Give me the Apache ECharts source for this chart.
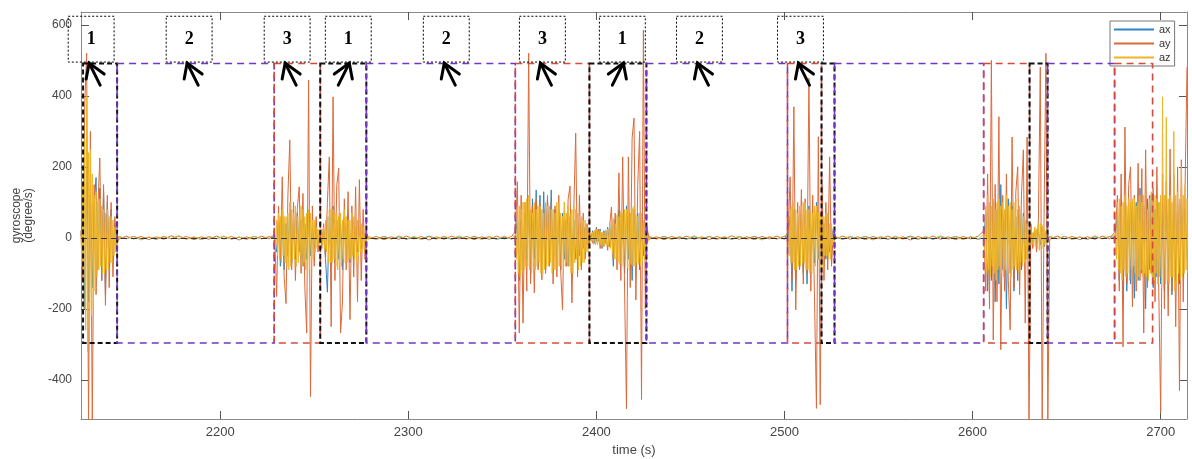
<!DOCTYPE html>
<html><head><meta charset="utf-8">
<script src="https://cdn.jsdelivr.net/npm/echarts@6/dist/echarts.min.js"></script>
<style>html,body{margin:0;padding:0;background:#fff}#c{width:1192px;height:459px}</style>
</head><body><div id="c"></div>
<script>
// ---- sampled signal: segments (bursts fine step, quiet 4 s step) ----
const segStart = [2126, 2146, 2229, 2279, 2357, 2428, 2502, 2527, 2606, 2641, 2676];
const segStepXY = [1, 4, 1, 4, 1, 4, 1, 4, 1, 4, 1];
const segStepZ  = [0.5, 4, 0.5, 4, 0.5, 4, 0.5, 4, 0.5, 4, 0.5];

const axSeg = [
  [5, 80, -200, 200, -180, 120, -140, 90, 170, -90, 140, -120, 130, -160, 100, -80, 80, -60, 40, -10],
  [3,-2,4,-3,2,-4,3,-2,5,-3,2,-4,3,-2,4,-3,2,-3,4,-2,3],
  [0, -40, 50, -80, 60, -90, 40, -50, 80, -70, 50, -60, 70, -40, 50, -80, 40, -60, 70, -50, 30, -30, 20, -15, 10, -15, 20, -60, -153, 60, -80, 90, -70, 50, -60, 40, -90, 60, -50, 40, -70, 50, -60, 30, -40, 30, -30, 20, -10, 0],
  [2,-3,4,-2,3,-4,2,-3,5,-2,3,-4,2,-3,4,-2,3,-4,2,-3],
  [0, 60, -120, 50, -90, 70, -60, 80, -70, 110, -60, 135, -80, 120, -70, 130, -90, 110, -60, 135, -100, 80, -70, 60, -90, 70, -60, 50, -80, 60, -70, 50, -60, 40, -50, 40, -30, 30, -20, 10,
   -5, 20, -15, 30, -10, 25, -30, 20, -15, 30, -25,
   40, -80, 50, -60, 80, -70, 60, -100, 90, -60, 70, -120, 80, -60, 70, -90, 60, -50, 30, -5],
  [3,-2,4,-3,2,-4,3,-2,4,-3,2,-4,3,-2,4,-3,2,-3,4],
  [0, 60, -150, 80, -120, 50, -90, 70, -100, 60, -130, 90, -80, 50, -70, 100, -60, 50, -70, 40, -60, 50, -40, 30, -5],
  [2,-4,3,-2,4,-3,2,-4,3,-2,5,-3,2,-4,3,-2,4,-3,2,-4],
  [0, 70, -150, 90, -120, 100, -180, 80, -130, 150, -90, 70, -200, 110, -100, 90, -150, 60, -120, 80, -90, 70, -60, 50, -40, 15, -10, 20, -15, 20, -20, 30, -25, 15, -5],
  [3,-2,4,-3,2,-4,3,-2,4],
  [0, 80, -120, 90, -180, 100, -150, 110, -130, 90, -170, 100, -120, 140, -100, 90, -200, 110, -90, 120, -140, 80, -110, 100, -130, 90, -150, 120, -100, 80, -160, 110, -120, 90, -130, 100, -110, 80, -60]
];

const aySeg = [
  [20, -120, 380, 520, -530, 300, -530, 150, -160, 90, 225, -120, 150, -190, 120, -140, 100, -110, 60, -20],
  [-4,5,-3,4,-5,3,-4,6,-3,4,-5,3,-4,5,-3,4,-6,3,-4,5,-3],
  [10, -165, 90, -60, 172, -110, -185, 120, 276, -90, 100, -120, 80, 144, -100, 125, -140, -268, 444, -447, 90, -80, 60, -40, 20, -30, 40, -60, 100, 228, -250, 397, -120, 150, 196, -268, -183, 110, -90, 130, -230, 90, -110, 144, -180, 164, -120, 80, -60, 10],
  [-3,4,-5,3,-4,5,-3,4,-6,3,-4,5,-3,4,-5,3,-4,5,-3,4],
  [20, 158, -268, 120, -240, 100, -150, 520, -130, 90, -155, 110, -90, 98, -118, 80, -100, 120, -80, 100, -130, 90, -110, 120, -90, -203, 100, -80, 110, 146, -183, 80, 295, -110, 120, -90, 70, -60, 40, -20,
   10, -15, 20, -10, 25, -30, 15, -25, 20, -35, 30,
   87, -60, 70, -90, 183, -120, 228, -150, -481, 228, -140, 281, 337, -175, 150, 300, -455, 585, -200, 30],
  [-4,3,-5,4,-3,5,-4,3,-5,4,-3,6,-4,3,-5,4,-3,5,-4],
  [20, 172, -120, 369, -203, 100, -90, 136, -130, 110, -100, 450, -150, 120, -180, -480, 285, -470, 150, -120, 100, -90, 228, -80, 20],
  [-3,5,-4,3,-5,4,-3,5,-4,3,-6,4,-3,5,-4,3,-5,4,-3,5],
  [20, -150, 180, -200, 500, -287, 150, -180, 341, -315, 120, -150, 180, -120, -259, 284, -140, 130, 200, -160, 120, 248, -240, 284, -530, 40, -30, 30, -40, 50, 481, -530, 60, 520, -530],
  [-4,5,-3,4,-5,3,-4,5,-3],
  [20, 120, -150, 180, -307, 312, -130, 150, 200, -194, 120, -150, 210, -120, 195, -268, 248, -140, 120, -100, 140, -180, 200, -150, -492, 180, -200, 160, -220, 250, -150, 180, -250, 200, -430, 220, -180, 150, 481]
];

const azSeg = [
  [10, -80, 150, -200, 280, -260, 400, -320, 240, -300, 250, -220, 180, -200, 120, -150, 130, -110, 100, -90,
   110, -80, 90, -100, 80, -100, 70, -90, 80, -90, 60, -70, 60, -70, 50, -50, 30, -40, 10, -5],
  [5,-3,4,-6,3,-4,5,-3,6,-4,3,-5,4,-3,5,-4,3,-5,4,-3,4],
  [5, -30, 50, -50, 70, -60, 60, -70, 80, -50,
   60, -70, 60, -80, 70, -90, 100, -80, 80, -60,
   70, -60, 90, -80, 60, -70, 60, -50, 90, -80,
   80, -70, 60, -90, 70, -100, 80, -90, 70, -60,
   50, -60, 50, -40, 30, -30, 25, -20, 15, -15,
   25, -20, 30, -35, 50, -40, 60, -70, 80, -70,
   80, -70, 80, -60, 70, -80, 70, -90, 60, -80,
   70, -80, 50, -60, 80, -70, 60, -70, 50, -60,
   50, -60, 70, -50, 60, -60, 80, -70, 50, -50,
   50, -40, 40, -40, 30, -30, 20, -15, 5, -4],
  [4,-5,3,-4,6,-3,4,-5,3,-4,5,-3,6,-4,3,-5,4,-3,5,-4],
  [10, -60, 90, -100, 90, -110, 80, -90, 100, -90,
   100, -80, 110, -80, 120, -90, 80, -100, 70, -90,
   100, -90, 80, -80, 90, -70, 90, -100, 80, -100,
   70, -90, 100, -80, 90, -80, 90, -70, 80, -100,
   80, -90, 70, -90, 100, -80, 100, -80, 70, -90,
   60, -90, 100, -80, 70, -70, 90, -80, 70, -100,
   80, -100, 90, -70, 80, -60, 70, -90, 60, -80,
   60, -70, 50, -70, 50, -40, 30, -40, 15, -10,
   12, -10, 15, -18, 22, -20, 25, -20, 18, -15, 20, -22, 15, -25, 15, -18, 22, -20, 25, -25, 35, -30,
   50, -45, 55, -60, 40, -60, 65, -70, 60, -75,
   75, -80, 70, -70, 80, -60, 80, -85, 80, -90,
   70, -75, 85, -80, 90, -80, 65, -70, 60, -75,
   70, -80, 70, -65, 50, -60, 40, -30, 5, -10],
  [5,-4,3,-5,4,-3,6,-4,3,-5,4,-3,5,-4,3,-6,4,-3,5],
  [10, -50, 80, -70, 90, -70, 100, -90, 80, -90,
   70, -80, 90, -80, 90, -70, 100, -70, 100, -90,
   80, -90, 80, -100, 70, -100, 70, -80, 90, -80,
   90, -60, 70, -60, 70, -90, 60, -90, 60, -50,
   70, -50, 70, -60, 40, -60, 40, -20, 5, -10],
  [4,-3,5,-4,3,-6,4,-3,5,-4,3,-5,4,-3,6,-4,3,-5,4,-3],
  [10, -60, 90, -100, 120, -90, 100, -110, 90, -80,
   110, -100, 80, -120, 100, -90, 110, -80, 90, -100,
   100, -110, 80, -90, 120, -100, 90, -80, 100, -110,
   80, -90, 100, -80, 110, -90, 80, -100, 90, -70,
   70, -80, 60, -70, 50, -60, 40, -30, 20, -15,
   25, -20, 15, -25, 30, -20, 25, -30, 40, -35,
   40, -30, 35, -30, 25, -20, 20, -15, 10, -5],
  [5,-3,4,-5,3,-4,6,-3,4],
  [10, -60, 100, -90, 110, -100, 90, -120, 100, -90,
   120, -110, 90, -100, 110, -120, 100, -90, 110, -80,
   110, -100, 90, -120, 100, -110, 120, -90, 100, -110,
   120, -100, 90, -110, 80, -120, 110, -100, 130, -110,
   100, -120, 120, -100, 110, -130, 100, -110, 120, -140,
   397, -140, 120, -130, 340, -120, 110, -130, 120, -110,
   100, -110, 300, -150, 120, -130, 130, -100, 110, -120,
   200, -110, 120, -100, 150, -90, 110, -100]
];

const seriesNames = ['ax', 'ay', 'az'];
const xTicks = [2200, 2300, 2400, 2500, 2600, 2700];
const yTicks = [-400, -200, 0, 200, 400, 600];
const xRange = [2126, 2714];
const yRange = [-510, 636];

// ---- phase boxes (time boundaries, phase type 1/2/3) ----
const phaseEdges = [2127.1, 2145.2, 2228.7, 2253.2, 2277.7, 2356.9, 2396.3, 2426.6, 2501.6, 2519.7, 2526.6, 2605.9, 2630.3, 2639.9, 2675.5, 2695.7];
const phaseType  = [1, 2, 3, 1, 2, 3, 1, 2, 3, 1, 2, 3, 1, 2, 3];
const phaseLevels = [-296, 491];

// ---- annotation labels ----
const labelTimes = [2131.4, 2183.5, 2235.6, 2268.1, 2320.2, 2371.3, 2413.8, 2454.8, 2508.5];
const labelText  = ['1', '2', '3', '1', '2', '3', '1', '2', '3'];
const labelLean  = [-1, -1, -1, 1, -1, -1, 1, -1, -1];
const labelLevels = [495, 624];
const labelHalfWidth = 12.2;

function build(segs, steps) {
  const out = [];
  segs.forEach((vals, i) => vals.forEach((v, j) => out.push([segStart[i] + j * steps[i], v])));
  return out;
}
const seriesData = [build(axSeg, segStepXY), build(aySeg, segStepXY), build(azSeg, segStepZ)];
const colors = ['#2f86c4', '#dc6a3a', '#edb52a'];

const phaseStyle = {
  1: { color: '#111111', width: 2, dash: [5, 3] },
  2: { color: '#7434c6', width: 1.6, dash: [7, 5] },
  3: { color: '#d8493c', width: 1.6, dash: [7, 5] }
};

const font = 'Liberation Sans, Arial, sans-serif';
const chart = echarts.init(document.getElementById('c'), null, { renderer: 'canvas' });

const lineSeries = seriesNames.map((n, i) => ({
  name: n, type: 'line', data: seriesData[i], showSymbol: false, symbol: 'none',
  lineStyle: { color: colors[i], width: 1 }, itemStyle: { color: colors[i] },
  animation: false, z: 2 + i,
  markLine: i === 2 ? {
    silent: true, symbol: 'none', animation: false,
    data: [{ yAxis: 0 }], label: { show: false },
    lineStyle: { color: '#333', width: 1, type: [6, 4] }
  } : undefined
}));

const phaseSeries = {
  type: 'custom', silent: true, animation: false, z: 10, clip: false,
  data: phaseType.map((k, i) => [phaseEdges[i], phaseEdges[i + 1], k]),
  renderItem(params, api) {
    const a = api.coord([api.value(0), phaseLevels[1]]);
    const b = api.coord([api.value(1), phaseLevels[0]]);
    const st = phaseStyle[api.value(2)];
    return {
      type: 'rect',
      shape: { x: a[0], y: a[1], width: b[0] - a[0], height: b[1] - a[1] },
      style: { fill: 'none', stroke: st.color, lineWidth: st.width, lineDash: st.dash }
    };
  }
};

const labelSeries = {
  type: 'custom', silent: true, animation: false, z: 11, clip: false,
  data: labelTimes.map((t, i) => [t, i]),
  renderItem(params, api) {
    const t = api.value(0);
    const i = params.dataIndex;
    const tl = api.coord([t - labelHalfWidth, labelLevels[1]]);
    const br = api.coord([t + labelHalfWidth, labelLevels[0]]);
    const cx = (tl[0] + br[0]) / 2;
    const cy = (tl[1] + br[1]) / 2;
    const L = labelLean[i];
    const tip = [cx + (L < 0 ? -2 : 1), br[1] + 1];
    const tail = [tip[0] - L * 11, tip[1] + 22];
    const arm1 = [tip[0] + L * 3, tip[1] + 16];
    const arm2 = [tip[0] - L * 15, tip[1] + 11];
    const ls = { stroke: '#000', lineWidth: 3, fill: 'none', lineCap: 'round', lineJoin: 'miter' };
    return {
      type: 'group', children: [
        { type: 'rect', shape: { x: tl[0], y: tl[1], width: br[0] - tl[0], height: br[1] - tl[1] },
          style: { fill: 'none', stroke: '#000', lineWidth: 1, lineDash: [2, 2] } },
        { type: 'text', style: { text: labelText[i], x: cx, y: cy, align: 'center', verticalAlign: 'middle',
          fontWeight: 'bold', fontSize: 18, fontFamily: 'Liberation Serif', fill: '#000' } },
        { type: 'polyline', shape: { points: [tail, tip] }, style: ls },
        { type: 'polyline', shape: { points: [arm1, tip, arm2] }, style: ls }
      ]
    };
  }
};

const axisCommon = {
  axisLine: { show: true, onZero: false, lineStyle: { color: '#8a8a8a', width: 1 } },
  splitLine: { show: false }
};
const plain = v => String(v);

chart.setOption({
  animation: false,
  backgroundColor: '#fff',
  grid: { left: 81, right: 5, top: 12, bottom: 40, outerBoundsMode: 'none', containLabel: false },
  legend: {
    data: seriesNames, orient: 'vertical', left: 1110, top: 21,
    itemWidth: 40, itemHeight: 2, icon: 'rect', itemGap: 3,
    padding: [3, 4, 3, 4], borderColor: '#777', borderWidth: 1, backgroundColor: '#fff',
    textStyle: { fontSize: 11, lineHeight: 11, color: '#333', fontFamily: font },
    selectedMode: false
  },
  xAxis: [
    Object.assign({
      type: 'value', min: xRange[0], max: xRange[1], position: 'bottom',
      name: 'time (s)', nameLocation: 'middle', nameGap: 21,
      nameTextStyle: { fontSize: 13, color: '#444', fontFamily: font },
      axisTick: { show: true, inside: true, length: 8, customValues: xTicks, lineStyle: { color: '#555' } },
      axisLabel: { customValues: xTicks, formatter: plain, fontSize: 13, color: '#444', fontFamily: font, margin: 7 }
    }, axisCommon),
    Object.assign({
      type: 'value', min: xRange[0], max: xRange[1], position: 'top',
      axisTick: { show: true, inside: true, length: 8, customValues: xTicks, lineStyle: { color: '#555' } },
      axisLabel: { show: false, customValues: xTicks }
    }, axisCommon)
  ],
  yAxis: [
    Object.assign({
      type: 'value', min: yRange[0], max: yRange[1], position: 'left',
      name: 'gyroscope\n(degree/s)', nameLocation: 'middle', nameGap: 46,
      nameTextStyle: { fontSize: 12, lineHeight: 12, color: '#444', fontFamily: font },
      axisTick: { show: true, inside: true, length: 8, customValues: yTicks, lineStyle: { color: '#555' } },
      axisLabel: { customValues: yTicks, formatter: plain, fontSize: 12, color: '#444', fontFamily: font, margin: 9 }
    }, axisCommon),
    Object.assign({
      type: 'value', min: yRange[0], max: yRange[1], position: 'right',
      axisTick: { show: true, inside: true, length: 8, customValues: yTicks, lineStyle: { color: '#555' } },
      axisLabel: { show: false, customValues: yTicks }
    }, axisCommon)
  ],
  series: lineSeries.concat([phaseSeries, labelSeries])
});
</script>
</body></html>
